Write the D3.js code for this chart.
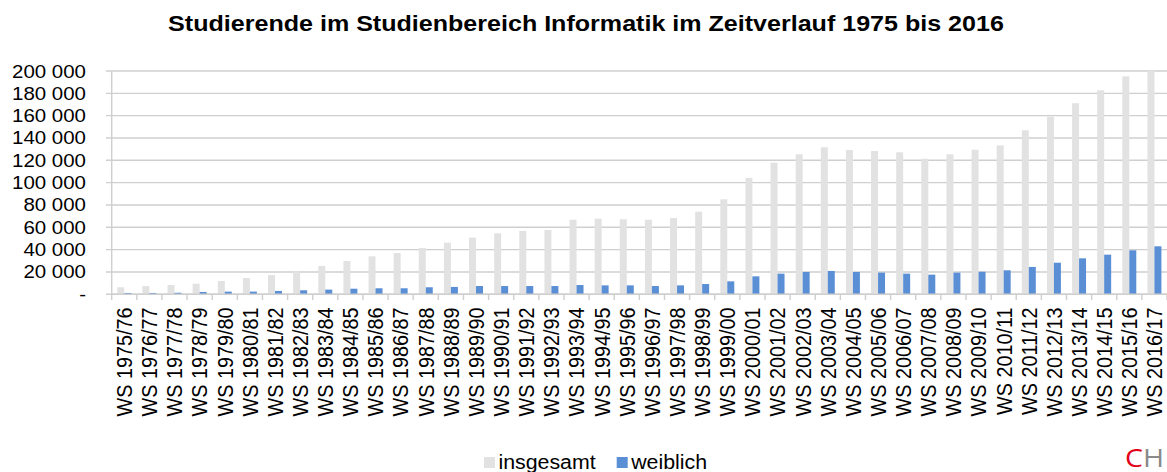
<!DOCTYPE html>
<html>
<head>
<meta charset="utf-8">
<script src="https://cdn.jsdelivr.net/npm/d3@7"></script>
<style>
  html, body { margin: 0; padding: 0; background: #fff; }
  svg { display: block; font-family: "Liberation Sans", Arial, sans-serif; }
</style>
</head>
<body>
<svg id="chart" width="1167" height="472"></svg>
<script>
// Studierende Informatik, Wintersemester 1975/76 - 2016/17
var categories = [
  "WS 1975/76", "WS 1976/77", "WS 1977/78", "WS 1978/79", "WS 1979/80", "WS 1980/81",
  "WS 1981/82", "WS 1982/83", "WS 1983/84", "WS 1984/85", "WS 1985/86", "WS 1986/87",
  "WS 1987/88", "WS 1988/89", "WS 1989/90", "WS 1990/91", "WS 1991/92", "WS 1992/93",
  "WS 1993/94", "WS 1994/95", "WS 1995/96", "WS 1996/97", "WS 1997/98", "WS 1998/99",
  "WS 1999/00", "WS 2000/01", "WS 2001/02", "WS 2002/03", "WS 2003/04", "WS 2004/05",
  "WS 2005/06", "WS 2006/07", "WS 2007/08", "WS 2008/09", "WS 2009/10", "WS 2010/11",
  "WS 2011/12", "WS 2012/13", "WS 2013/14", "WS 2014/15", "WS 2015/16", "WS 2016/17"
];

var insgesamt = [
  6300, 7400, 8300, 9500, 11900, 14600, 17300, 20600, 25400, 29800, 34000, 37000,
  41500, 46200, 50700, 54600, 56700, 57600, 66800, 67700, 67200, 66800, 68300, 74000,
  85100, 104200, 117900, 125400, 131700, 129200, 128300, 127200, 121400, 125400, 129500, 133400,
  146900, 159100, 171100, 182700, 195200, 200000
];

var weiblich = [
  1200, 1200, 1400, 2100, 2400, 2400, 3000, 3600, 4200, 5000, 5400, 5400,
  6300, 6600, 7400, 7400, 7400, 7400, 8300, 8000, 8000, 7400, 8000, 9200,
  11600, 16100, 18500, 20000, 20900, 20000, 19400, 18500, 17600, 19400, 20200, 21500,
  24500, 28300, 32200, 35500, 39400, 43000
];

var seriesNames = ["insgesamt", "weiblich"];
var seriesColors = ["#e2e2e2", "#5a8fd6"];
var yTicks = [0, 20000, 40000, 60000, 80000, 100000, 120000, 140000, 160000, 180000, 200000];

var title = "Studierende im Studienbereich Informatik im Zeitverlauf 1975 bis 2016";

function drawChart() {
  // the original picture is stretched horizontally, so draw in a narrower viewBox
  var stretch = 1.1;
  var W = 1167 / stretch, H = 472;
  var svg = d3.select("#chart")
    .attr("viewBox", "0 0 " + W + " " + H)
    .attr("preserveAspectRatio", "none");

  var plotLeft = 111.7 / stretch, plotRight = W, plotTop = 71, plotBottom = 294.3;

  var de = d3.formatLocale({ decimal: ",", thousands: " ", grouping: [3], currency: ["", " €"] });
  var fmt = function(v) { return v === 0 ? "-" : de.format(",")(v); };

  var x = d3.scaleBand().domain(categories).range([plotLeft, plotRight]).padding(0);
  var bw = x.bandwidth();
  var xs = d3.scaleBand().domain(seriesNames).range([bw * 0.222, bw * 0.778]).padding(0);
  var y = d3.scaleLinear().domain([0, 200000]).range([plotBottom, plotTop]);

  // title
  svg.append("text")
    .attr("x", 586 / stretch)
    .attr("y", 31)
    .attr("text-anchor", "middle")
    .attr("font-size", 22.8)
    .attr("font-weight", "bold")
    .attr("fill", "#000")
    .text(title);

  // gridlines
  svg.append("g")
    .selectAll("line")
    .data(yTicks)
    .enter().append("line")
    .attr("x1", plotLeft - 5.7 / stretch)
    .attr("x2", plotRight)
    .attr("y1", function(d) { return y(d); })
    .attr("y2", function(d) { return y(d); })
    .attr("stroke", "#cfcfcf")
    .attr("stroke-width", 1.4);

  // y axis line
  svg.append("line")
    .attr("x1", plotLeft).attr("x2", plotLeft)
    .attr("y1", plotTop).attr("y2", plotBottom)
    .attr("stroke", "#cfcfcf")
    .attr("stroke-width", 1.3);

  // y labels
  svg.append("g")
    .selectAll("text")
    .data(yTicks)
    .enter().append("text")
    .attr("x", 86 / stretch)
    .attr("y", function(d) { return y(d); })
    .attr("dy", "0.35em")
    .attr("text-anchor", "end")
    .attr("font-size", 18.6)
    .attr("fill", "#000")
    .text(fmt);

  // bars
  var rows = categories.map(function(c, i) {
    return { cat: c, values: [insgesamt[i], weiblich[i]] };
  });

  var groups = svg.append("g")
    .selectAll("g")
    .data(rows)
    .enter().append("g")
    .attr("transform", function(d) { return "translate(" + x(d.cat) + ",0)"; });

  groups.selectAll("rect")
    .data(function(d) {
      return d.values.map(function(v, j) { return { name: seriesNames[j], value: v, color: seriesColors[j] }; });
    })
    .enter().append("rect")
    .attr("x", function(d) { return xs(d.name); })
    .attr("width", xs.bandwidth())
    .attr("y", function(d) { return y(d.value); })
    .attr("height", function(d) { return y(0) - y(d.value); })
    .attr("fill", function(d) { return d.color; });

  // x axis line + ticks between categories
  svg.append("line")
    .attr("x1", plotLeft).attr("x2", plotRight)
    .attr("y1", plotBottom).attr("y2", plotBottom)
    .attr("stroke", "#cfcfcf")
    .attr("stroke-width", 1.4);

  svg.append("g")
    .selectAll("line")
    .data(categories.concat([null]))
    .enter().append("line")
    .attr("x1", function(d, i) { return plotLeft + i * bw; })
    .attr("x2", function(d, i) { return plotLeft + i * bw; })
    .attr("y1", plotBottom)
    .attr("y2", plotBottom + 5.7)
    .attr("stroke", "#cfcfcf")
    .attr("stroke-width", 1.3);

  // x labels, rotated
  svg.append("g")
    .selectAll("text")
    .data(categories)
    .enter().append("text")
    .attr("transform", function(d) { return "translate(" + (x(d) + bw / 2) + "," + 307.5 + ") rotate(-90)"; })
    .attr("dy", "0.36em")
    .attr("text-anchor", "end")
    .attr("font-size", 19.8)
    .attr("fill", "#000")
    .text(function(d) { return d; });

  // legend
  var legendX = [484 / stretch, 616.7 / stretch];
  var legend = svg.append("g")
    .selectAll("g")
    .data(seriesNames)
    .enter().append("g")
    .attr("transform", function(d, i) { return "translate(" + legendX[i] + ",0)"; });

  legend.append("rect")
    .attr("x", 0).attr("y", 457)
    .attr("width", 11 / stretch).attr("height", 11)
    .attr("fill", function(d, i) { return seriesColors[i]; });

  legend.append("text")
    .attr("x", 14.5 / stretch)
    .attr("y", 469)
    .attr("font-size", 19.4)
    .attr("fill", "#000")
    .text(function(d) { return d; });

  // logo
  var logo = svg.append("text")
    .attr("x", 1125 / stretch)
    .attr("y", 467)
    .attr("font-size", 26)
    .attr("font-family", "'Open Sans', 'Liberation Sans', sans-serif");
  logo.append("tspan").attr("fill", "#e2001a").text("C");
  logo.append("tspan").attr("fill", "#8a8a8a").text("H");
}

drawChart();
</script>
</body>
</html>
